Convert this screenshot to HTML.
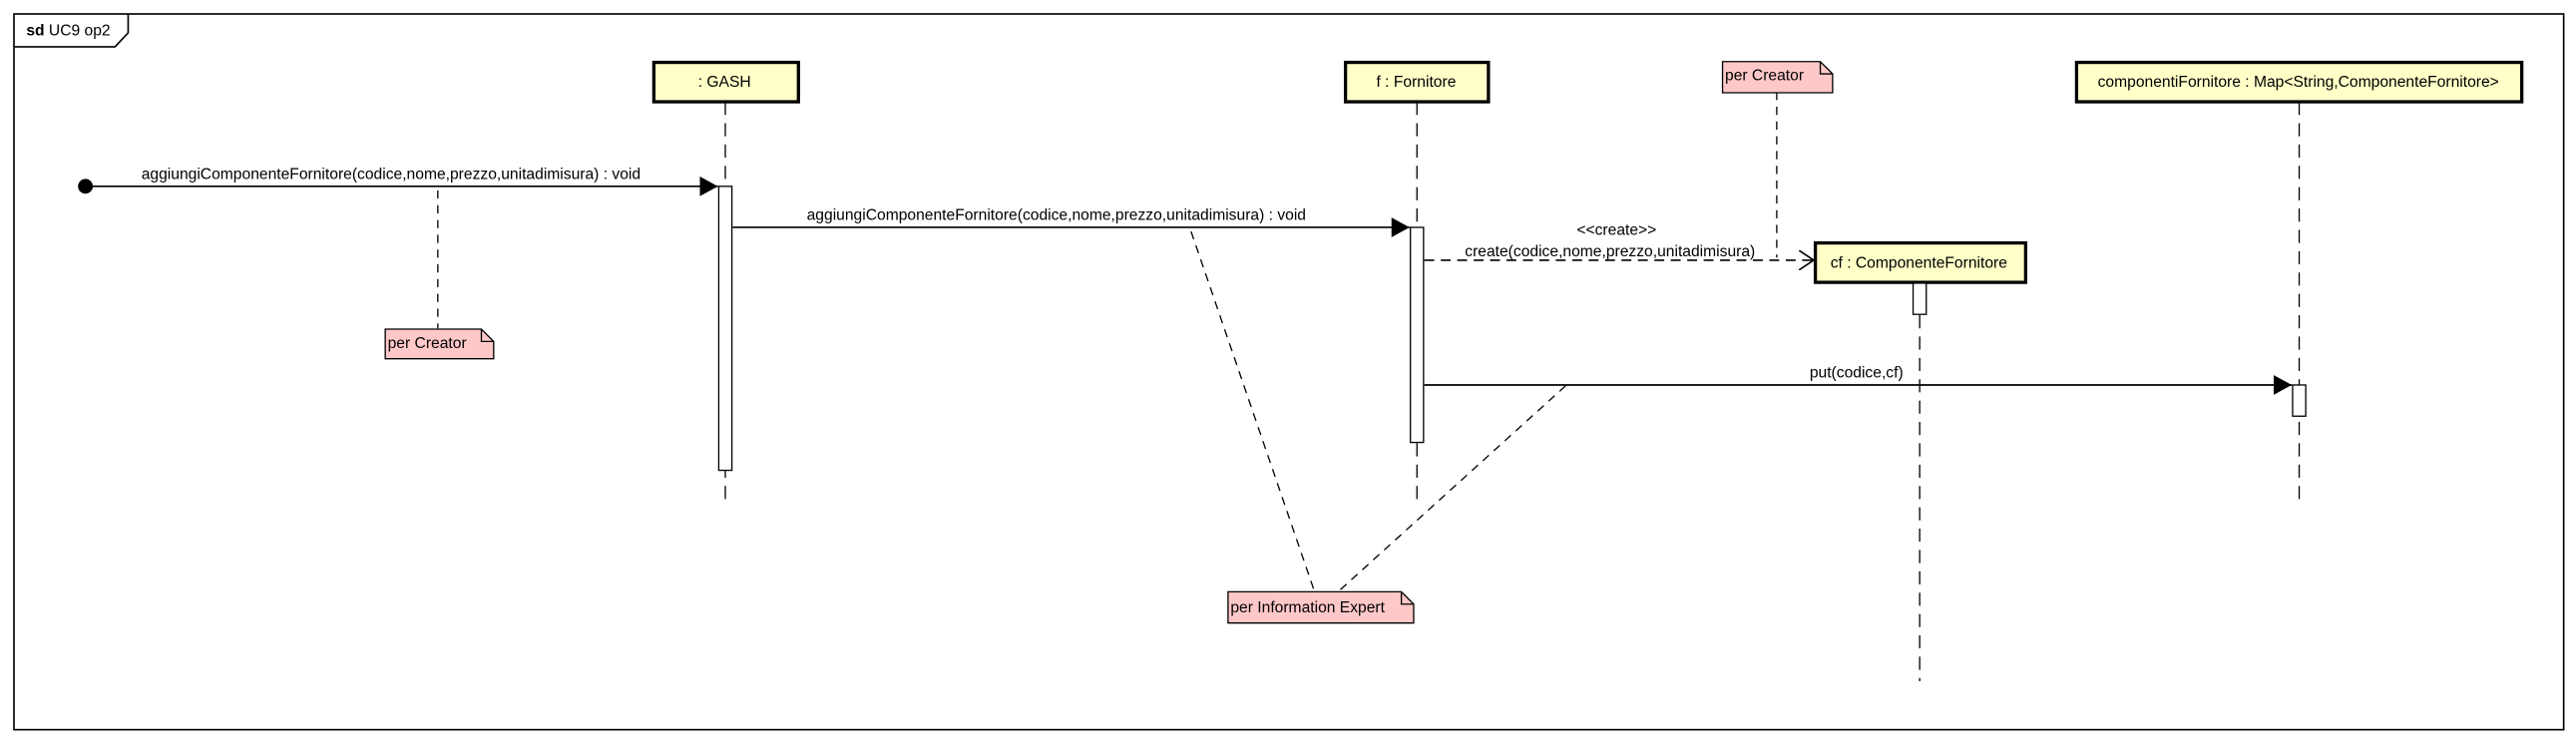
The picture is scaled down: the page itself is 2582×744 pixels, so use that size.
<!DOCTYPE html>
<html><head><meta charset="utf-8"><style>
html,body{margin:0;padding:0;background:#fff;}
svg{display:block;}
text{font-family:"Liberation Sans",sans-serif;font-size:9.5px;fill:#000;}
</style></head><body>
<svg width="2582" height="744" viewBox="0 0 1568 452" preserveAspectRatio="none" xmlns="http://www.w3.org/2000/svg">
<defs>
<marker id="fa" markerWidth="12" markerHeight="12" refX="11" refY="6" orient="auto" markerUnits="userSpaceOnUse"><path d="M0,0 L11,6 L0,12 z" fill="#000"/></marker>
<marker id="oa" markerWidth="10" markerHeight="12" refX="9" refY="6" orient="auto" markerUnits="userSpaceOnUse"><path d="M0,0 L9,6 L0,12" fill="none" stroke="#000" stroke-width="1"/></marker>
</defs>
<rect width="1568" height="452" fill="#fff"/>
<!-- frame -->
<rect x="8.5" y="8.5" width="1552" height="436" fill="none" stroke="#000" stroke-width="1"/>
<path d="M8.5,28.5 L70,28.5 L78,20 L78,8.5" fill="none" stroke="#000"/>
<text x="16" y="21.5"><tspan font-weight="bold">sd</tspan> UC9 op2</text>

<!-- lifelines -->
<g stroke="#000" stroke-width="0.8" stroke-dasharray="8,5" fill="none">
<line x1="441.5" y1="62" x2="441.5" y2="305"/>
<line x1="862.5" y1="62" x2="862.5" y2="305"/>
<line x1="1168.5" y1="192" x2="1168.5" y2="415"/>
<line x1="1399.5" y1="62" x2="1399.5" y2="305"/>
</g>

<!-- lifeline heads -->
<g stroke="#000" stroke-width="2" fill="#ffffc8">
<rect x="398" y="38" width="88" height="24"/>
<rect x="819" y="38" width="87" height="24"/>
<rect x="1264" y="38" width="271" height="24"/>
<rect x="1105" y="148" width="128" height="24"/>
</g>
<text x="441" y="53" text-anchor="middle">: GASH</text>
<text x="862" y="53" text-anchor="middle">f : Fornitore</text>
<text x="1399" y="53" text-anchor="middle">componentiFornitore : Map&lt;String,ComponenteFornitore&gt;</text>
<text x="1168" y="163" text-anchor="middle">cf : ComponenteFornitore</text>

<!-- activations -->
<g stroke="#000" stroke-width="0.8" fill="#fff">
<rect x="437.5" y="113.5" width="8" height="173"/>
<rect x="858.5" y="138.5" width="8" height="131"/>
<rect x="1164.5" y="172.5" width="8" height="19"/>
<rect x="1395.5" y="234.5" width="8" height="19"/>
</g>

<!-- messages -->
<circle cx="52" cy="113.5" r="4.5" fill="#000"/>
<line x1="52" y1="113.5" x2="437" y2="113.5" stroke="#000" stroke-width="1" marker-end="url(#fa)"/>
<text x="238" y="109" text-anchor="middle">aggiungiComponenteFornitore(codice,nome,prezzo,unitadimisura) : void</text>

<line x1="446" y1="138.5" x2="858" y2="138.5" stroke="#000" stroke-width="1" marker-end="url(#fa)"/>
<text x="643" y="134" text-anchor="middle">aggiungiComponenteFornitore(codice,nome,prezzo,unitadimisura) : void</text>

<line x1="867" y1="158.5" x2="1104" y2="158.5" stroke="#000" stroke-width="1" stroke-dasharray="6,4" marker-end="url(#oa)"/>
<text x="984" y="143" text-anchor="middle">&lt;&lt;create&gt;&gt;</text>
<text x="980" y="156" text-anchor="middle">create(codice,nome,prezzo,unitadimisura)</text>

<line x1="867" y1="234.5" x2="1395" y2="234.5" stroke="#000" stroke-width="1" marker-end="url(#fa)"/>
<text x="1130" y="230" text-anchor="middle">put(codice,cf)</text>

<!-- note connectors -->
<g stroke="#000" stroke-width="0.8" stroke-dasharray="5,4" fill="none">
<line x1="266.5" y1="116" x2="266.5" y2="200"/>
<line x1="1081.5" y1="56" x2="1081.5" y2="157"/>
<line x1="725" y1="141" x2="800" y2="360"/>
<line x1="953" y1="235" x2="815" y2="360"/>
</g>

<!-- notes -->
<g stroke="#000" stroke-width="0.8" fill="#ffc8c8">
<path d="M234.5,200.5 H293 L300.5,208 V218.5 H234.5 Z"/>
<path d="M1048.5,37.5 H1108 L1115.5,45 V56.5 H1048.5 Z"/>
<path d="M747.5,360.5 H853 L860.5,368 V379.5 H747.5 Z"/>
</g>
<g stroke="#000" stroke-width="0.8" fill="none">
<path d="M293,200.5 V208 H300.5"/>
<path d="M1108,37.5 V45 H1115.5"/>
<path d="M853,360.5 V368 H860.5"/>
</g>
<text x="236" y="212">per Creator</text>
<text x="1050" y="49">per Creator</text>
<text x="749" y="373">per Information Expert</text>
</svg>
</body></html>
